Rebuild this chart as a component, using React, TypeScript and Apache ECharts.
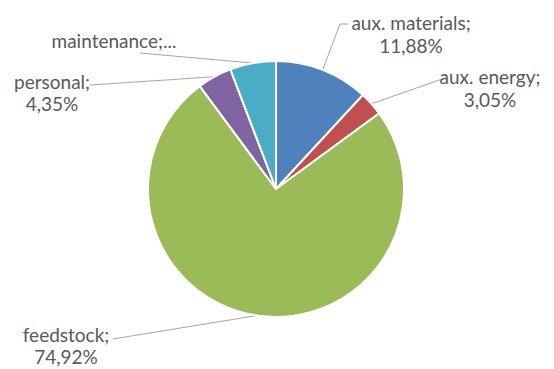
import React, { useEffect, useRef } from "react";
import * as echarts from "echarts";

const categories = ["aux. materials", "aux. energy", "feedstock", "personal", "maintenance"];
const values = [11.88, 3.05, 74.92, 4.35, 5.8];
const colors = ["#4F81BD", "#C0504D", "#9BBB59", "#8064A2", "#4BACC6"];
const labelTexts = ["aux. materials;\n11,88%", "aux. energy;\n3,05%", "feedstock;\n74,92%", "personal;\n4,35%", "maintenance;..."];

// label anchor positions (text centre) and leader elbow/end points
const labelPos = [
  { x: 411, y: 34, lh: 23, line: [[340, 24], [348, 24]] },
  { x: 490, y: 88, lh: 23, line: [[445, 78]] },
  { x: 66, y: 345, lh: 22, line: [[113, 339]] },
  { x: 52, y: 92, lh: 22, line: [[90, 85]] },
  { x: 114, y: 40, lh: 22, line: [[140, 53]] },
];

export default function App() {
  const ref = useRef<HTMLDivElement>(null);
  useEffect(() => {
    const chart = echarts.init(ref.current!, null, { renderer: "svg" });
    chart.setOption({
      animation: false,
      backgroundColor: "#ffffff",
      series: [
        {
          type: "pie",
          center: [276, 189],
          radius: 128,
          startAngle: 90,
          clockwise: true,
          avoidLabelOverlap: false,
          data: categories.map((c, i) => ({
            name: c,
            value: values[i],
            itemStyle: { color: colors[i] },
            label: { lineHeight: labelPos[i].lh },
          })),
          itemStyle: { borderColor: "#ffffff", borderWidth: 2 },
          label: {
            show: true,
            position: "outside",
            formatter: (p: any) => labelTexts[p.dataIndex],
            fontFamily: "Lato",
            fontSize: 19,
            color: "#595959",
            align: "center",
          },
          labelLine: {
            show: true,
            lineStyle: { color: "#A6A6A6", width: 1 },
          },
          labelLayout: (params: any) => {
            const lp = labelPos[params.dataIndex];
            const p0 = params.labelLinePoints ? params.labelLinePoints[0] : null;
            const pts = p0 ? [p0, ...lp.line] : undefined;
            return {
              x: lp.x,
              y: lp.y,
              align: "center",
              verticalAlign: "middle",
              labelLinePoints: pts,
            };
          },
          emphasis: { disabled: true },
        },
      ],
    });
    return () => chart.dispose();
  }, []);
  return <div ref={ref} style={{ width: 554, height: 369, position: "absolute", left: 0, top: 0 }} />;
}
